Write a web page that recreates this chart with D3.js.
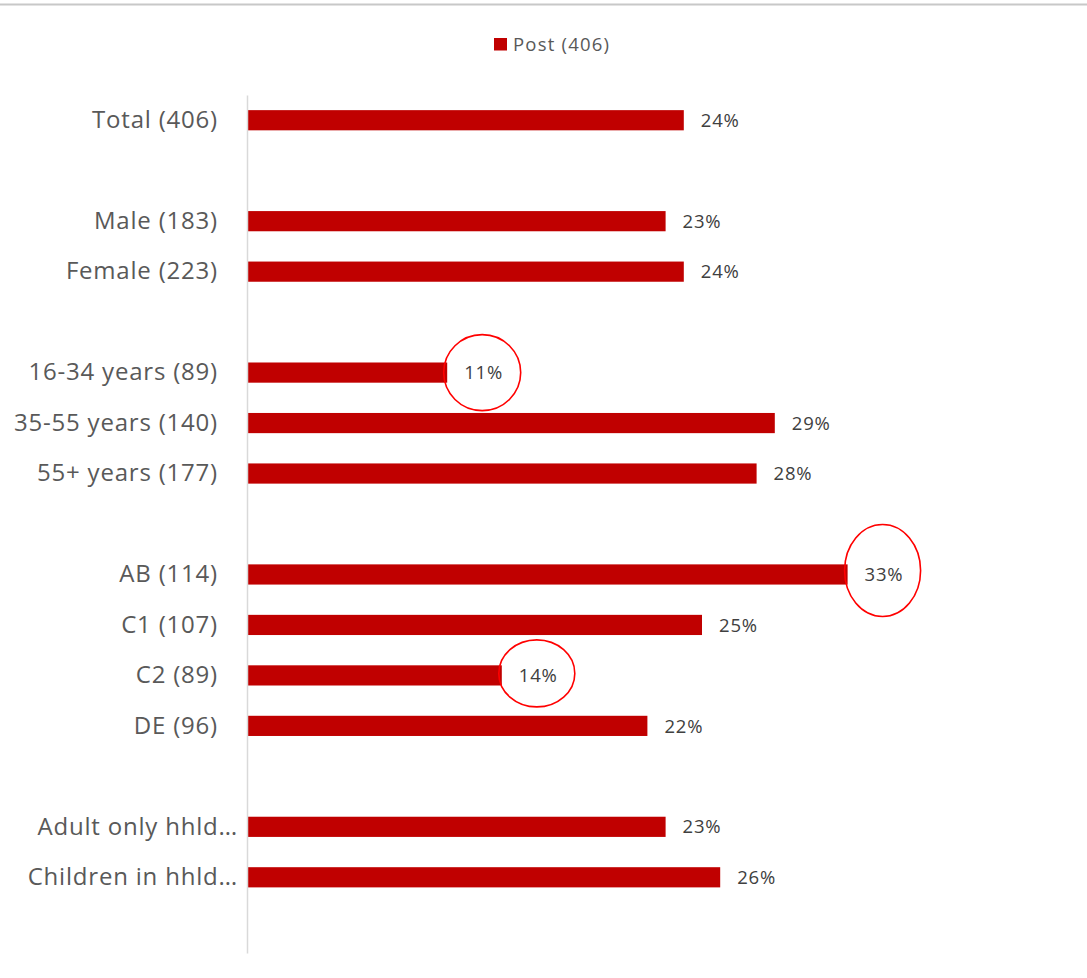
<!DOCTYPE html>
<html>
<head>
<meta charset="utf-8">
<script src="https://cdn.jsdelivr.net/npm/d3@7"></script>
<style>
  html, body { margin: 0; padding: 0; background: #fff; }
  svg { display: block; }
</style>
</head>
<body>
<svg id="chart" width="1087" height="978"></svg>
<script>
// ---- data ----
const categories = [
  "Total (406)", "", "Male (183)", "Female (223)", " ",
  "16-34 years (89)", "35-55 years (140)", "55+ years (177)", "  ",
  "AB (114)", "C1 (107)", "C2 (89)", "DE (96)", "   ",
  "Adult only hhld\u2026", "Children in hhld\u2026", "    "
];
const values = [24, null, 23, 24, null, 11, 29, 28, null, 33, 25, 14, 22, null, 23, 26, null];
const valueLabels = ["24%", "", "23%", "24%", "", "11%", "29%", "28%", "", "33%", "25%", "14%", "22%", "", "23%", "26%", ""];
const seriesName = "Post (406)";
const highlighted = ["16-34 years (89)", "AB (114)", "C2 (89)"];

// ---- layout ----
const svg = d3.select("#chart");
const W = 1087, H = 978;
const axisX = 247;
const plotTop = 95, plotBottom = 953;

const x = d3.scaleLinear().domain([0, 45]).range([axisX, axisX + 45 * 18.2]);
const y = d3.scaleBand().domain(categories).range([plotTop, plotBottom]).paddingInner(0.6).paddingOuter(0.3);

const font = "'Open Sans', 'Noto Sans', sans-serif";

// top border
svg.append("line")
  .attr("x1", 0).attr("x2", W).attr("y1", 4.5).attr("y2", 4.5)
  .attr("stroke", "#c8c8c8").attr("stroke-width", 2);

// legend
const legend = svg.append("g").attr("transform", "translate(494,0)");
legend.append("rect").attr("x", 0).attr("y", 38).attr("width", 13).attr("height", 12.5).attr("fill", "#c00000");
legend.append("text").attr("x", 19).attr("y", 51).text(seriesName)
  .attr("font-family", font).attr("font-size", 18.5).attr("letter-spacing", 1.2).attr("fill", "#595959");

// bars
const rows = categories.map((c, i) => ({ c, v: values[i], lab: valueLabels[i] })).filter(d => d.v != null);

svg.append("g").selectAll("rect").data(rows).join("rect")
  .attr("x", x(0) + 1)
  .attr("y", d => y(d.c))
  .attr("width", d => x(d.v) - x(0) - 1)
  .attr("height", y.bandwidth())
  .attr("fill", "#c00000");

// category axis (left)
const yAxis = d3.axisLeft(y).tickSize(0).tickPadding(29).tickFormat(d => d.trim());
const gAxis = svg.append("g").attr("transform", `translate(${axisX},0)`).call(yAxis);
gAxis.select(".domain").attr("stroke", "#d9d9d9").attr("stroke-width", 1.5);
gAxis.selectAll("text")
  .attr("font-family", font).attr("font-size", 24).attr("letter-spacing", 0.8).attr("fill", "#595959")
  .attr("dy", "0.32em")
  .attr("x", d => d.endsWith("\u2026") ? -9 : -29);

// value labels
svg.append("g").selectAll("text").data(rows).join("text")
  .attr("x", d => x(d.v) + 17)
  .attr("y", d => y(d.c) + y.bandwidth() / 2)
  .attr("dy", "0.36em")
  .attr("font-family", font).attr("font-size", 18.5).attr("letter-spacing", 0.8).attr("fill", "#404040")
  .text(d => d.lab);

// annotation ellipses
const ellipseSize = { "16-34 years (89)": [38.5, 38, 0], "AB (114)": [38, 46, -4], "C2 (89)": [38, 33.5, -2] };
svg.append("g").selectAll("ellipse").data(rows.filter(d => highlighted.includes(d.c))).join("ellipse")
  .attr("cx", d => x(d.v) + 35)
  .attr("cy", d => y(d.c) + y.bandwidth() / 2 + ellipseSize[d.c][2])
  .attr("rx", d => ellipseSize[d.c][0])
  .attr("ry", d => ellipseSize[d.c][1])
  .attr("fill", "none").attr("stroke", "#ff0000").attr("stroke-width", 1.6);
</script>
</body>
</html>
